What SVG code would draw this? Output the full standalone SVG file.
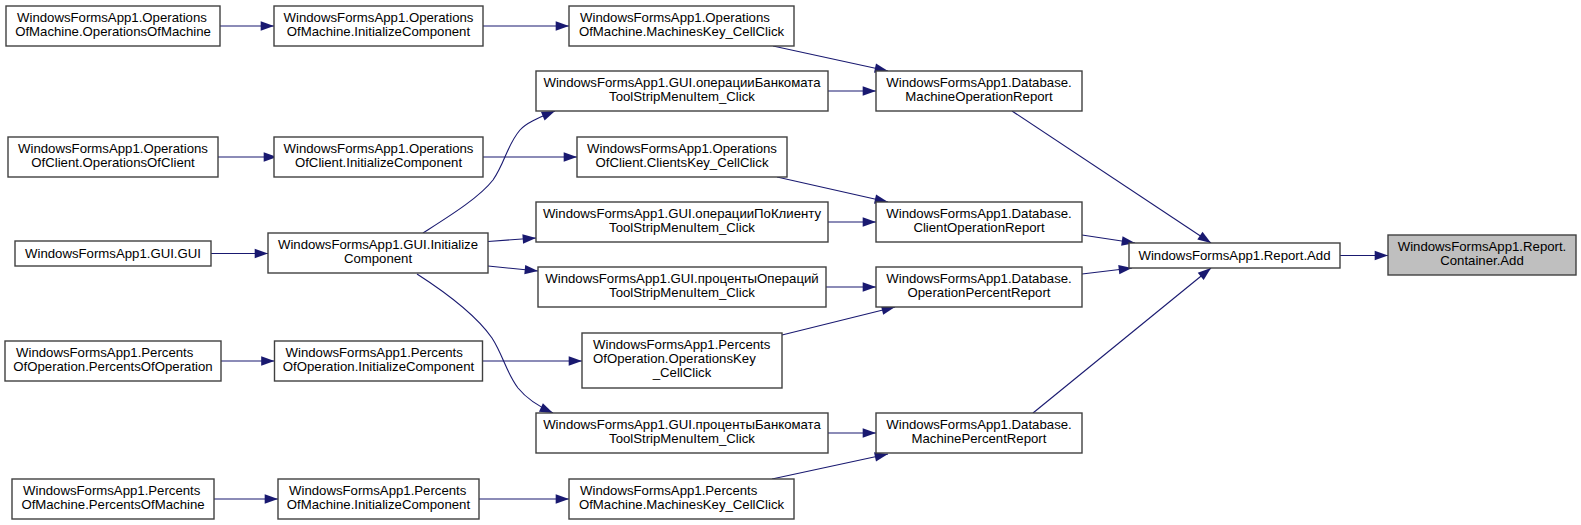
<svg xmlns="http://www.w3.org/2000/svg" width="1581" height="525" viewBox="0 0 1581 525">
<defs>
<style>
.n rect{fill:#ffffff;stroke:#404040;stroke-width:1.4}
.n.hl rect{fill:#bfbfbf}
.n text{font-family:"Liberation Sans",Arial,sans-serif;font-size:13.2px;fill:#000}
.c{text-anchor:middle}
.l{text-anchor:start}
.e path{fill:none;stroke:#191970;stroke-width:1.1;marker-end:url(#arr)}
</style>
<marker id="arr" markerUnits="userSpaceOnUse" markerWidth="14" markerHeight="10" viewBox="0 0 14 10" refX="13.3" refY="4.7" orient="auto" overflow="visible">
<path d="M0,0 L13.3,4.7 L0,9.4 z" fill="#191970"/>
</marker>
</defs>
<rect x="0" y="0" width="1581" height="525" fill="#ffffff"/>

<g id="edges" class="e">
<path d="M220,26 L274,26"/>
<path d="M483,26 L569,26"/>
<path d="M773,46 L888,71"/>
<path d="M828,91 L876,91"/>
<path d="M1012,111 L1211,243"/>
<path d="M218,157 L277,157"/>
<path d="M483,157 L577,157"/>
<path d="M777,177 L888,202"/>
<path d="M828,222 L876,222"/>
<path d="M1082,235 L1135,243"/>
<path d="M211,253.5 L268,253.5"/>
<path d="M423,233 C448,217 479,198 493,180 C505,163 507,145 520,130 C527,122 542,116.5 555,111"/>
<path d="M488,241.5 L536,238"/>
<path d="M488,266 L538,271"/>
<path d="M417,274 C445,292 476,315 492,338 C503,355 506,372 518,388 C526,398 540,407 553,413"/>
<path d="M221,361 L274.5,361"/>
<path d="M482.5,361 L582,361"/>
<path d="M782,335 L895,307"/>
<path d="M826,287 L876,287"/>
<path d="M1082,274 L1132,268"/>
<path d="M828,433 L876,433"/>
<path d="M1033,413 L1211,268"/>
<path d="M214,499 L278,499"/>
<path d="M479,499 L569,499"/>
<path d="M772,479 L888,454"/>
<path d="M1340,255.5 L1388,255.5"/>
</g>

<g id="n_opsMachine" class="n"><rect x="6" y="6" width="214" height="40"/>
<text class="l" x="17" y="22">WindowsFormsApp1.Operations</text><text class="c" x="113" y="36">OfMachine.OperationsOfMachine</text></g>
<g id="n_opsClient" class="n"><rect x="8" y="137" width="210" height="40"/>
<text class="c" x="113" y="153">WindowsFormsApp1.Operations</text><text class="c" x="113" y="167">OfClient.OperationsOfClient</text></g>
<g id="n_gui" class="n"><rect x="15" y="241" width="196" height="25"/>
<text class="c" x="113" y="257.5">WindowsFormsApp1.GUI.GUI</text></g>
<g id="n_percOp" class="n"><rect x="5" y="341" width="216" height="40"/>
<text class="l" x="16" y="357">WindowsFormsApp1.Percents</text><text class="c" x="113" y="371">OfOperation.PercentsOfOperation</text></g>
<g id="n_percMachine" class="n"><rect x="12" y="479" width="202" height="40"/>
<text class="l" x="23" y="495">WindowsFormsApp1.Percents</text><text class="c" x="113" y="509">OfMachine.PercentsOfMachine</text></g>

<g id="n_initOpsMachine" class="n"><rect x="274" y="6" width="209" height="40"/>
<text class="c" x="378.5" y="22">WindowsFormsApp1.Operations</text><text class="c" x="378.5" y="36">OfMachine.InitializeComponent</text></g>
<g id="n_initOpsClient" class="n"><rect x="274" y="137" width="209" height="40"/>
<text class="c" x="378.5" y="153">WindowsFormsApp1.Operations</text><text class="c" x="378.5" y="167">OfClient.InitializeComponent</text></g>
<g id="n_guiInit" class="n"><rect x="268" y="233" width="220" height="40"/>
<text class="c" x="378" y="249">WindowsFormsApp1.GUI.Initialize</text><text class="c" x="378" y="263">Component</text></g>
<g id="n_initPercOp" class="n"><rect x="274.5" y="341" width="208" height="40"/>
<text class="l" x="285.5" y="357">WindowsFormsApp1.Percents</text><text class="c" x="378.5" y="371">OfOperation.InitializeComponent</text></g>
<g id="n_initPercMachine" class="n"><rect x="278" y="479" width="201" height="40"/>
<text class="l" x="289" y="495">WindowsFormsApp1.Percents</text><text class="c" x="378.5" y="509">OfMachine.InitializeComponent</text></g>

<g id="n_machinesKey" class="n"><rect x="569" y="6" width="225" height="40"/>
<text class="l" x="580" y="22">WindowsFormsApp1.Operations</text><text class="c" x="681.5" y="36">OfMachine.MachinesKey_CellClick</text></g>
<g id="n_guiOpBank" class="n"><rect x="536" y="71" width="292" height="40"/>
<text class="c" x="682" y="87">WindowsFormsApp1.GUI.операцииБанкомата</text><text class="c" x="682" y="101">ToolStripMenuItem_Click</text></g>
<g id="n_clientsKey" class="n"><rect x="577" y="137" width="210" height="40"/>
<text class="c" x="682" y="153">WindowsFormsApp1.Operations</text><text class="c" x="682" y="167">OfClient.ClientsKey_CellClick</text></g>
<g id="n_guiOpClient" class="n"><rect x="536" y="202" width="292" height="40"/>
<text class="c" x="682" y="218">WindowsFormsApp1.GUI.операцииПоКлиенту</text><text class="c" x="682" y="232">ToolStripMenuItem_Click</text></g>
<g id="n_guiPercOp" class="n"><rect x="538" y="267" width="288" height="40"/>
<text class="c" x="682" y="283">WindowsFormsApp1.GUI.процентыОпераций</text><text class="c" x="682" y="297">ToolStripMenuItem_Click</text></g>
<g id="n_operationsKey" class="n"><rect x="582" y="333" width="200" height="55"/>
<text class="l" x="593" y="349">WindowsFormsApp1.Percents</text><text class="l" x="593" y="363">OfOperation.OperationsKey</text><text class="c" x="682" y="377">_CellClick</text></g>
<g id="n_guiPercBank" class="n"><rect x="536" y="413" width="292" height="40"/>
<text class="c" x="682" y="429">WindowsFormsApp1.GUI.процентыБанкомата</text><text class="c" x="682" y="443">ToolStripMenuItem_Click</text></g>
<g id="n_percMachineKey" class="n"><rect x="569" y="479" width="225" height="40"/>
<text class="l" x="580" y="495">WindowsFormsApp1.Percents</text><text class="c" x="681.5" y="509">OfMachine.MachinesKey_CellClick</text></g>

<g id="n_dbMachineOp" class="n"><rect x="876" y="71" width="206" height="40"/>
<text class="c" x="979" y="87">WindowsFormsApp1.Database.</text><text class="c" x="979" y="101">MachineOperationReport</text></g>
<g id="n_dbClientOp" class="n"><rect x="876" y="202" width="206" height="40"/>
<text class="c" x="979" y="218">WindowsFormsApp1.Database.</text><text class="c" x="979" y="232">ClientOperationReport</text></g>
<g id="n_dbOpPercent" class="n"><rect x="876" y="267" width="206" height="40"/>
<text class="c" x="979" y="283">WindowsFormsApp1.Database.</text><text class="c" x="979" y="297">OperationPercentReport</text></g>
<g id="n_dbMachinePercent" class="n"><rect x="876" y="413" width="206" height="40"/>
<text class="c" x="979" y="429">WindowsFormsApp1.Database.</text><text class="c" x="979" y="443">MachinePercentReport</text></g>

<g id="n_reportAdd" class="n"><rect x="1129" y="243" width="211" height="25"/>
<text class="c" x="1234.5" y="259.5">WindowsFormsApp1.Report.Add</text></g>
<g id="n_containerAdd" class="n hl"><rect x="1388" y="235" width="188" height="40"/>
<text class="c" x="1482" y="251">WindowsFormsApp1.Report.</text><text class="c" x="1482" y="265">Container.Add</text></g>
</svg>
